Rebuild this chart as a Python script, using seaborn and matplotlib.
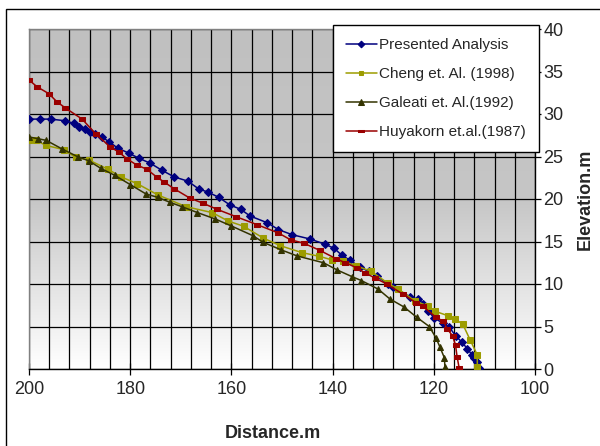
import numpy as np
import matplotlib
matplotlib.use("Agg")
import matplotlib.pyplot as plt
from matplotlib.colors import LinearSegmentedColormap
from matplotlib.ticker import MultipleLocator
from matplotlib.patches import Rectangle
import seaborn as sns

# Free-surface profiles: distance (m) vs elevation (m)
presented_x = [200, 197.8, 195.7, 192.8, 191.2, 190.1, 188.9, 187.9, 187.0, 185.6,
               184.1, 182.5, 180.3, 178.3, 176.0, 173.8, 171.3, 168.6, 166.5, 164.6,
               162.5, 160.3, 158.2, 156.3, 152.9, 150.7, 148.0, 144.5, 141.6, 139.7,
               138.2, 136.6, 134.6, 132.9, 131.2, 129.1, 128.0, 124.7, 123.1, 122.1,
               121.1, 119.9, 118.2, 116.9, 115.7, 114.5, 113.4, 112.5, 112.0, 111.5, 111.0]
presented_y = [29.4, 29.4, 29.4, 29.2, 28.9, 28.5, 28.2, 27.9, 27.6, 27.3,
               26.7, 26.0, 25.4, 24.8, 24.2, 23.4, 22.6, 22.1, 21.2, 20.8,
               20.2, 19.3, 18.8, 18.0, 17.2, 16.4, 15.8, 15.3, 14.7, 14.2,
               13.4, 12.8, 12.0, 11.5, 10.9, 10.0, 9.6, 8.5, 8.2, 7.7,
               6.8, 6.0, 5.4, 4.9, 3.9, 3.2, 2.4, 1.7, 1.3, 0.8, 0.1]

cheng_x = [200, 198.7, 196.6, 193.1, 190.8, 188.2, 184.4, 181.8, 178.6, 174.6,
           169.0, 163.8, 160.6, 157.6, 153.7, 150.3, 146.1, 142.6, 140.2, 137.9,
           135.4, 132.4, 129.1, 127.0, 123.7, 121.1, 119.8, 117.1, 115.8, 114.3,
           112.8, 111.4, 111.4]
cheng_y = [27.0, 26.9, 26.3, 25.8, 24.9, 24.6, 23.5, 22.6, 21.8, 20.5,
           19.1, 18.4, 17.4, 16.8, 15.4, 14.5, 13.7, 13.25, 12.85, 12.7,
           12.15, 11.5, 10.1, 9.4, 8.0, 7.4, 6.8, 6.25, 5.85, 5.3,
           3.4, 1.65, 0.2]

galeati_x = [200, 198.3, 196.6, 193.5, 190.3, 188.2, 185.8, 183.1, 180.0, 176.9,
             174.6, 172.1, 169.8, 166.7, 163.2, 160.1, 155.8, 153.7, 150.1, 147.0,
             141.8, 139.1, 136.1, 134.3, 131.0, 128.7, 125.9, 123.4, 120.9, 119.6,
             118.8, 117.9, 117.8]
galeati_y = [27.3, 27.1, 26.9, 25.9, 24.95, 24.5, 23.6, 22.8, 21.7, 20.6,
             20.2, 19.6, 19.1, 18.4, 17.65, 16.85, 15.7, 14.9, 14.0, 13.3,
             12.5, 11.65, 10.85, 10.4, 9.4, 8.25, 7.3, 6.1, 5.0, 3.7,
             2.6, 1.3, 0.2]

huyakorn_x = [200, 198.4, 196.1, 194.5, 192.8, 189.5, 186.8, 183.9, 182.3, 180.6,
              178.7, 176.7, 174.8, 173.3, 171.3, 168.2, 165.6, 162.9, 159.0, 155.0,
              150.7, 148.3, 145.7, 142.5, 139.4, 137.5, 135.2, 133.6, 131.6, 129.3,
              126.1, 123.5, 122.2, 119.6, 118.1, 117.3, 116.3, 115.7, 115.4, 115.0]
huyakorn_y = [34.0, 33.2, 32.4, 31.45, 30.7, 29.4, 27.65, 26.1, 25.55, 24.7,
              24.0, 23.5, 22.6, 22.0, 21.2, 20.1, 19.5, 18.8, 17.9, 17.0,
              16.0, 15.2, 14.8, 13.95, 13.0, 12.5, 11.9, 11.3, 10.7, 10.0,
              8.8, 7.8, 7.4, 6.1, 5.6, 4.7, 3.9, 2.8, 1.45, 0.15]

labels = ["Presented Analysis", "Cheng et. Al. (1998)",
          "Galeati et. Al.(1992)", "Huyakorn et.al.(1987)"]

x_ticks = [200, 180, 160, 140, 120, 100]
y_ticks = [0, 5, 10, 15, 20, 25, 30, 35, 40]

sns.set_theme(style="white")
plt.rcParams["font.family"] = ["Liberation Sans", "DejaVu Sans"]

fig = plt.figure(figsize=(6.0, 4.46), dpi=100)
ax = fig.add_axes([29 / 600, 1 - 369 / 446, 506 / 600, 340 / 446])

# grey gradient plot-area fill
cmap = LinearSegmentedColormap.from_list("bg", ["#c0c0c0", "#c6c6c6", "#ffffff"])
ax.imshow(np.linspace(0, 1, 256).reshape(-1, 1), cmap=cmap, aspect="auto",
          extent=[200, 100, 0, 40], zorder=0, interpolation="bilinear")

red_marker = [(-1.0, -0.45), (1.0, -0.45), (1.0, 0.45), (-1.0, 0.45), (-1.0, -0.45)]

series = [
    (presented_x, presented_y, "#00007f", "D", 4.0),
    (cheng_x, cheng_y, "#9c9c00", "s", 3.8),
    (galeati_x, galeati_y, "#333300", "^", 4.6),
    (huyakorn_x, huyakorn_y, "#9a0000", red_marker, 5.0),
]
for (xs, ys, col, mk, ms), lab in zip(series, labels):
    sns.lineplot(x=xs, y=ys, ax=ax, sort=False, estimator=None, color=col,
                 marker=mk, markersize=ms, markeredgecolor=col, markerfacecolor=col,
                 linewidth=1.1, label=lab, zorder=3)

ax.set_xlim(200, 100)
ax.set_ylim(0, 40)
ax.xaxis.set_minor_locator(MultipleLocator(4))
ax.set_xticks(x_ticks)
ax.set_yticks(y_ticks)

ax.grid(False)
ax.xaxis.grid(True, which="both", color="black", linewidth=0.9, zorder=1)
ax.yaxis.grid(True, which="major", color="black", linewidth=0.9, zorder=1)
ax.set_axisbelow(True)

ax.yaxis.tick_right()
ax.yaxis.set_label_position("right")
ax.tick_params(axis="x", which="major", direction="inout", length=8, width=0.9,
               color="black", labelsize=13, pad=5, bottom=True)
ax.tick_params(axis="x", which="minor", length=0, bottom=False)
ax.tick_params(axis="y", which="major", direction="out", length=4, width=0.9,
               color="black", labelsize=13, pad=2, right=True, left=False)

for side in ["left", "top"]:
    ax.spines[side].set_color("#808080")
    ax.spines[side].set_linewidth(1.0)
for side in ["bottom", "right"]:
    ax.spines[side].set_color("black")
    ax.spines[side].set_linewidth(1.0)

ax.set_xlabel("Distance.m", fontsize=13, fontweight="bold")
ax.set_ylabel("Elevation.m", fontsize=13, fontweight="bold")
ax.xaxis.set_label_coords(0.482, -0.165)
ax.yaxis.set_label_coords(1.082, 0.5)

leg = ax.legend(loc="upper left", bbox_to_anchor=(333 / 600, 1 - 25 / 446),
                bbox_transform=fig.transFigure, borderaxespad=0, fontsize=11,
                frameon=True, fancybox=False, shadow=False, framealpha=1,
                edgecolor="black", facecolor="white", handlelength=2.0,
                handletextpad=0.15, labelspacing=0.98, borderpad=0.85,
                markerscale=0.85)
leg.get_frame().set_linewidth(1.0)
leg.set_zorder(5)

# chart-area border
fig.patches.append(Rectangle((6 / 600, -0.2), 1.2, 0.2 + 1 - 9 / 446,
                             transform=fig.transFigure, fill=False,
                             edgecolor="black", linewidth=1.0))

fig.savefig("out.png", dpi=100)
